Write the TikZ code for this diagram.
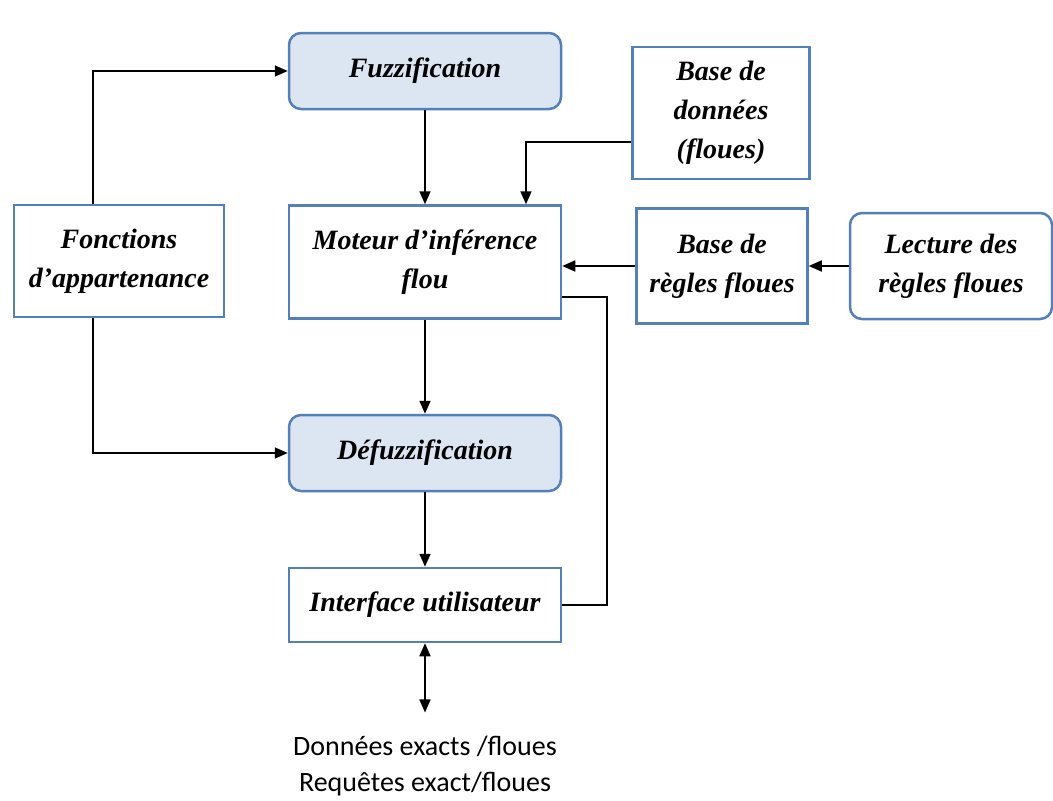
\documentclass[tikz,border=0pt]{standalone}
\usepackage{fontspec}
\setmainfont{Liberation Serif}
\newfontfamily\calibrifont{Carlito}
\usetikzlibrary{arrows.meta}

\definecolor{rahmenblau}{RGB}{84,128,186}
\definecolor{fuellblau}{RGB}{220,230,242}

\begin{document}
\begin{tikzpicture}[x=1pt, y=-1pt,
        kasten/.style={draw=rahmenblau, line width=2.5pt, align=center, inner sep=0pt,
            font=\fontsize{28}{39}\selectfont\bfseries\itshape},
        rundkasten/.style={kasten, rounded corners=12pt},
        schritt/.style={rundkasten, fill=fuellblau},
        pfeil/.style={line width=1.7pt, -{Triangle[length=13pt,width=11pt]}},
        linie/.style={line width=1.7pt}]

            % Rahmen
            \useasboundingbox (0,0) rectangle (1053,801);

            % Kästen
            \node[schritt, minimum width=272pt, minimum height=76pt] (fuzz) at (425,71) {Fuzzification};
            \node[kasten, minimum width=177pt, minimum height=132pt] (bdd) at (721,113) {Base de\\donn\'ees\\(floues)};
            \node[kasten, minimum width=272pt, minimum height=113pt] (moteur) at (425,262) {Moteur d’inférence\\flou};
            \node[kasten, minimum width=171pt, minimum height=115pt] (regles) at (722,266) {Base de\\règles floues};
            \node[rundkasten, minimum width=202pt, minimum height=106pt] (lecture) at (951,266) {Lecture des\\règles floues};
            \node[kasten, minimum width=210pt, minimum height=112pt] (fonctions) at (119,261) {Fonctions\\d’appartenance};
            \node[schritt, minimum width=272pt, minimum height=76pt] (defuzz) at (425,453) {Défuzzification};
            \node[kasten, minimum width=272pt, minimum height=74pt] (interface) at (425,605) {Interface utilisateur};

            % Ausgabe
            \node[align=center, font=\calibrifont\fontsize{28}{36}\selectfont] (ausgabe) at (425,766)
                {Données exacts /floues\\Requêtes exact/floues};

            % Verbindungen
            \coordinate (rueck) at (607,0);
            \draw[pfeil] (fuzz) -- (moteur);
            \draw[pfeil] ([yshift=-29pt]bdd.west) -| ([xshift=101pt]moteur.north);
            \draw[pfeil] (regles.west) -- (regles.west -| moteur.east);
            \draw[pfeil] (lecture) -- (regles);
            \draw[pfeil] ([xshift=-26pt]fonctions.north) |- (fuzz.west);
            \draw[pfeil] ([xshift=-26pt]fonctions.south) |- (defuzz.west);
            \draw[pfeil] (moteur) -- (defuzz);
            \draw[pfeil] (defuzz) -- (interface);
            \draw[linie] (interface.east) -- (interface.east -| rueck) |- ([yshift=-35pt]moteur.east);
            \draw[linie, {Triangle[length=13pt,width=11pt]}-{Triangle[length=13pt,width=11pt]}]
                (interface.south) -- ([yshift=20pt]ausgabe.north);
        \end{tikzpicture}
\end{document}
